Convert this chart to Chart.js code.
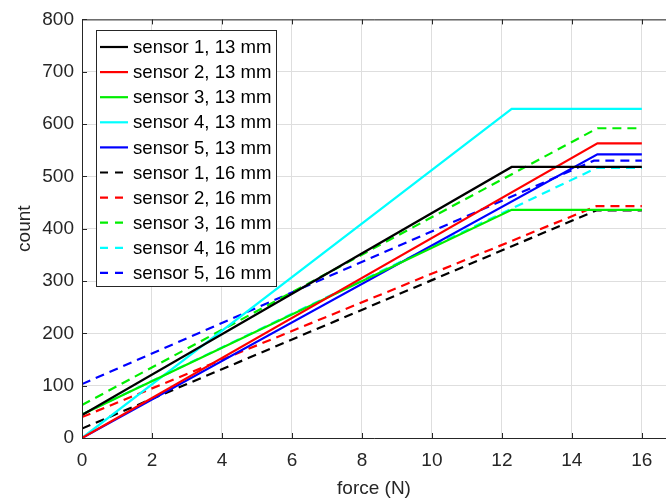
<!DOCTYPE html>
<html>
<head>
<meta charset="utf-8">
<script src="https://cdn.jsdelivr.net/npm/chart.js@4.4.1/dist/chart.umd.min.js"></script>
<style>
  html, body { margin: 0; padding: 0; background: #fff; }
  #wrap { width: 666px; height: 504px; }
</style>
</head>
<body>
<div id="wrap"><canvas id="forceChart" width="666" height="504"></canvas></div>
<script>
// values: each line rises from force 0 to a knee, then stays flat to 16 N
const sensorLabels = [
  'sensor 1, 13 mm', 'sensor 2, 13 mm', 'sensor 3, 13 mm', 'sensor 4, 13 mm', 'sensor 5, 13 mm',
  'sensor 1, 16 mm', 'sensor 2, 16 mm', 'sensor 3, 16 mm', 'sensor 4, 16 mm', 'sensor 5, 16 mm'
];
const startCount   = [44, 0, 45, 0, 0, 18, 40, 63, 45, 103];
const kneeForce    = [12.28, 14.73, 12.28, 12.28, 14.73, 14.7, 14.7, 14.73, 14.7, 14.63];
const plateauCount = [518, 563, 436, 629, 542, 435, 443, 592, 516, 530];
const endForce = 16;

const xTicks = [0, 2, 4, 6, 8, 10, 12, 14, 16];
const yTicks = [0, 100, 200, 300, 400, 500, 600, 700, 800];

const lineColors = ['#000000', '#ff0000', '#00ee00', '#00ffff', '#0000ff'];
const DASH = [9, 6];
const FONT = '"Liberation Sans", Arial, Helvetica, sans-serif';

const datasets = sensorLabels.map((label, i) => ({
  label: label,
  data: [
    { x: 0, y: startCount[i] },
    { x: kneeForce[i], y: plateauCount[i] },
    { x: endForce, y: plateauCount[i] }
  ],
  borderColor: lineColors[i % 5],
  borderWidth: 2.2,
  borderDash: i < 5 ? [] : DASH,
  pointRadius: 0,
  tension: 0,
  fill: false
}));

// axes box with inward ticks, like the original figure
const boxPlugin = {
  id: 'boxPlugin',
  afterDatasetsDraw(chart) {
    const { ctx, chartArea: a, scales } = chart;
    ctx.save();
    ctx.strokeStyle = '#262626';
    ctx.lineWidth = 1;
    ctx.beginPath();
    ctx.moveTo(a.right + 1, a.top + 0.5);
    ctx.lineTo(a.left + 0.5, a.top + 0.5);
    ctx.lineTo(a.left + 0.5, a.bottom + 0.5);
    ctx.lineTo(a.right + 1, a.bottom + 0.5);
    xTicks.forEach(v => {
      const px = Math.round(scales.x.getPixelForValue(v)) + 0.5;
      ctx.moveTo(px, a.bottom); ctx.lineTo(px, a.bottom - 5);
      ctx.moveTo(px, a.top); ctx.lineTo(px, a.top + 5);
    });
    yTicks.forEach(v => {
      const py = Math.round(scales.y.getPixelForValue(v)) + 0.5;
      ctx.moveTo(a.left, py); ctx.lineTo(a.left + 5, py);
    });
    ctx.stroke();
    ctx.restore();
  }
};

// legend box in the upper left of the plot
const legendBox = {
  id: 'legendBox',
  afterDraw(chart) {
    const ctx = chart.ctx;
    const x0 = 96, y0 = 30, w = 180, h = 256;
    const rowTop = 47, rowStep = 25.1;
    ctx.save();
    ctx.fillStyle = '#ffffff';
    ctx.fillRect(x0, y0, w, h);
    ctx.strokeStyle = '#262626';
    ctx.lineWidth = 1;
    ctx.strokeRect(x0 + 0.5, y0 + 0.5, w, h);
    ctx.font = '18.6px ' + FONT;
    ctx.textBaseline = 'middle';
    chart.data.datasets.forEach((ds, i) => {
      const y = rowTop + i * rowStep;
      ctx.strokeStyle = ds.borderColor;
      ctx.lineWidth = 2.2;
      ctx.setLineDash(ds.borderDash.length ? [8, 7] : []);
      ctx.beginPath();
      ctx.moveTo(100, y);
      ctx.lineTo(ds.borderDash.length ? 124 : 128, y);
      ctx.stroke();
      ctx.setLineDash([]);
      ctx.fillStyle = '#000000';
      ctx.fillText(ds.label, 133, y + 1);
    });
    ctx.restore();
  }
};

new Chart(document.getElementById('forceChart'), {
  type: 'line',
  data: { datasets: datasets },
  plugins: [boxPlugin, legendBox],
  options: {
    responsive: false,
    animation: false,
    layout: { padding: { top: 18, right: 0, bottom: 0, left: 0 } },
    plugins: { legend: { display: false }, tooltip: { enabled: false } },
    scales: {
      x: {
        type: 'linear',
        min: 0,
        max: 16.69,
        afterBuildTicks: s => { s.ticks = xTicks.map(v => ({ value: v })); },
        afterFit: s => { s.height = 66; },
        grid: { color: '#dedede', drawTicks: false },
        border: { display: false },
        ticks: { padding: 11, color: '#262626', font: { size: 19, family: FONT } },
        title: {
          display: true, text: 'force (N)', color: '#262626',
          font: { size: 19, family: FONT }, padding: { top: 0, bottom: 4 }
        }
      },
      y: {
        type: 'linear',
        min: 0,
        max: 800,
        afterBuildTicks: s => { s.ticks = yTicks.map(v => ({ value: v })); },
        afterFit: s => { s.width = 82; },
        grid: { color: '#dedede', drawTicks: false },
        border: { display: false },
        ticks: { padding: 8, color: '#262626', font: { size: 19, family: FONT } },
        title: {
          display: true, text: 'count', color: '#262626',
          font: { size: 19, family: FONT }, padding: { top: 13, bottom: 0 }
        }
      }
    }
  }
});
</script>
</body>
</html>
